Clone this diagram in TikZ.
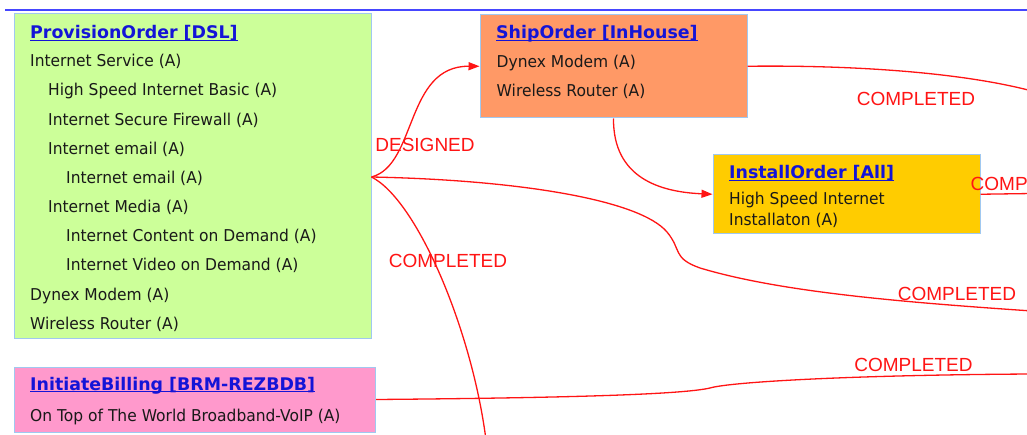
\documentclass[tikz,border=0pt]{standalone}
\usepackage{fontspec}
\usetikzlibrary{arrows.meta}
\newfontfamily\bodyf[FakeStretch=0.95]{DejaVu Sans}
\newfontfamily\titlef{DejaVu Sans}
\newfontfamily\labelf{Liberation Sans}
\definecolor{pogreen}{RGB}{204,255,153}
\definecolor{shiporange}{RGB}{255,153,102}
\definecolor{instyellow}{RGB}{255,204,0}
\definecolor{billpink}{RGB}{255,153,204}
\definecolor{boxborder}{RGB}{160,200,240}
\definecolor{titleblue}{RGB}{20,20,215}
\definecolor{topblue}{RGB}{70,70,255}
\definecolor{edgered}{RGB}{255,20,20}
\definecolor{bodytext}{RGB}{25,25,25}
\newcommand{\ulbox}[1]{\setbox0\hbox{#1}\rlap{\rule[-2.2pt]{\wd0}{1.1pt}}\box0}
\begin{document}
\begin{tikzpicture}[x=1pt,y=-1pt,
  box/.style={draw=boxborder,line width=1pt,inner sep=0pt,anchor=north west},
  ttl/.style={anchor=base west,inner sep=0pt,text=titleblue,font=\titlef\bfseries\fontsize{17.4}{19}\selectfont},
  bdy/.style={anchor=base west,inner sep=0pt,text=bodytext,font=\bodyf\fontsize{16.3}{18}\selectfont},
  lbl/.style={inner sep=0pt,text=edgered,font=\labelf\fontsize{19}{21}\selectfont},
  edge/.style={draw=edgered,line width=1.3pt},
  arr/.style={-{Triangle[length=11pt,width=8pt]}},
  topline/.style={draw=topblue,line width=2pt}]
\useasboundingbox (0,0) rectangle (1027,435);
\clip (0,0) rectangle (1027,435);
\fill[white] (0,0) rectangle (1027,435);
\coordinate (tl0) at (5,10);
\coordinate (tl1) at (1030,10);
\draw[topline] (tl0) -- (tl1);
% boxes
\node[box,fill=pogreen,minimum width=357,minimum height=324] (po) at (13.5,13.5) {};
\node[box,fill=shiporange,minimum width=267,minimum height=103.5] (so) at (479.5,14) {};
\node[box,fill=instyellow,minimum width=267,minimum height=79.5] (io) at (712.5,154) {};
\node[box,fill=billpink,minimum width=361.5,minimum height=65] (ib) at (13.5,366.5) {};
% ProvisionOrder texts
\node[ttl] (pot) at (30,39) {\ulbox{ProvisionOrder [DSL]}};
\node[bdy] (p1) at (30,67) {Internet Service (A)};
\node[bdy] (p2) at (48,96) {High Speed Internet Basic (A)};
\node[bdy] (p3) at (48,125.5) {Internet Secure Firewall (A)};
\node[bdy] (p4) at (48,154.5) {Internet email (A)};
\node[bdy] (p5) at (66,184) {Internet email (A)};
\node[bdy] (p6) at (48,213) {Internet Media (A)};
\node[bdy] (p7) at (66,242) {Internet Content on Demand (A)};
\node[bdy] (p8) at (66,271) {Internet Video on Demand (A)};
\node[bdy] (p9) at (30,300.5) {Dynex Modem (A)};
\node[bdy] (p10) at (30,329) {Wireless Router (A)};
% ShipOrder texts
\node[ttl] (sot) at (496,38.5) {\ulbox{ShipOrder [InHouse]}};
\node[bdy] (s1) at (496.5,67.5) {Dynex Modem (A)};
\node[bdy] (s2) at (496.5,96.5) {Wireless Router (A)};
% InstallOrder texts
\node[ttl] (iot) at (729,178.5) {\ulbox{InstallOrder [All]}};
\node[bdy] (i1) at (729,205) {High Speed Internet};
\node[bdy] (i2) at (729,225.5) {Installaton (A)};
% InitiateBilling texts
\node[ttl] (ibt) at (30,390) {\ulbox{InitiateBilling [BRM-REZBDB]}};
\node[bdy] (b1) at (30,421.5) {On Top of The World Broadband-VoIP (A)};
% coordinates
\coordinate (src) at (po.east |- 0,177);
\coordinate (e1) at (1032,91);
\coordinate (e2) at (1032,193.5);
\coordinate (e3) at (1032,311);
\coordinate (e4) at (1032,374);
\coordinate (e5) at (486,440);
% connectors
\draw[edge,arr] (src) .. controls (417,165) and (405,66) .. (so.west);
\draw[edge] (src) .. controls (520,180) and (640,200) .. (667,232)
   .. controls (682,250) and (672,258) .. (700,268)
   .. controls (780,292) and (900,302) .. (e3);
\draw[edge] (src) .. controls (417,200) and (472,330) .. (e5);
\draw[edge,arr] (so.south) .. controls (613,178) and (660,192) .. (io.west);
\draw[edge] (so.east) .. controls (850,65) and (960,72) .. (e1);
\draw[edge] (io.east) -- (e2);
\draw[edge] (ib.east) .. controls (550,398) and (680,395) .. (710,388)
   .. controls (730,382) and (850,375) .. (e4);
% labels
\node[lbl] (l1) at (425,145) {DESIGNED};
\node[lbl] (l2) at (448,261) {COMPLETED};
\node[lbl] (l3) at (916,98.5) {COMPLETED};
\node[lbl] (l4) at (957,294) {COMPLETED};
\node[lbl] (l5) at (913.5,365) {COMPLETED};
\node[lbl,anchor=west] (l6) at (970.5,184) {COMPLETED};
\end{tikzpicture}
\end{document}
